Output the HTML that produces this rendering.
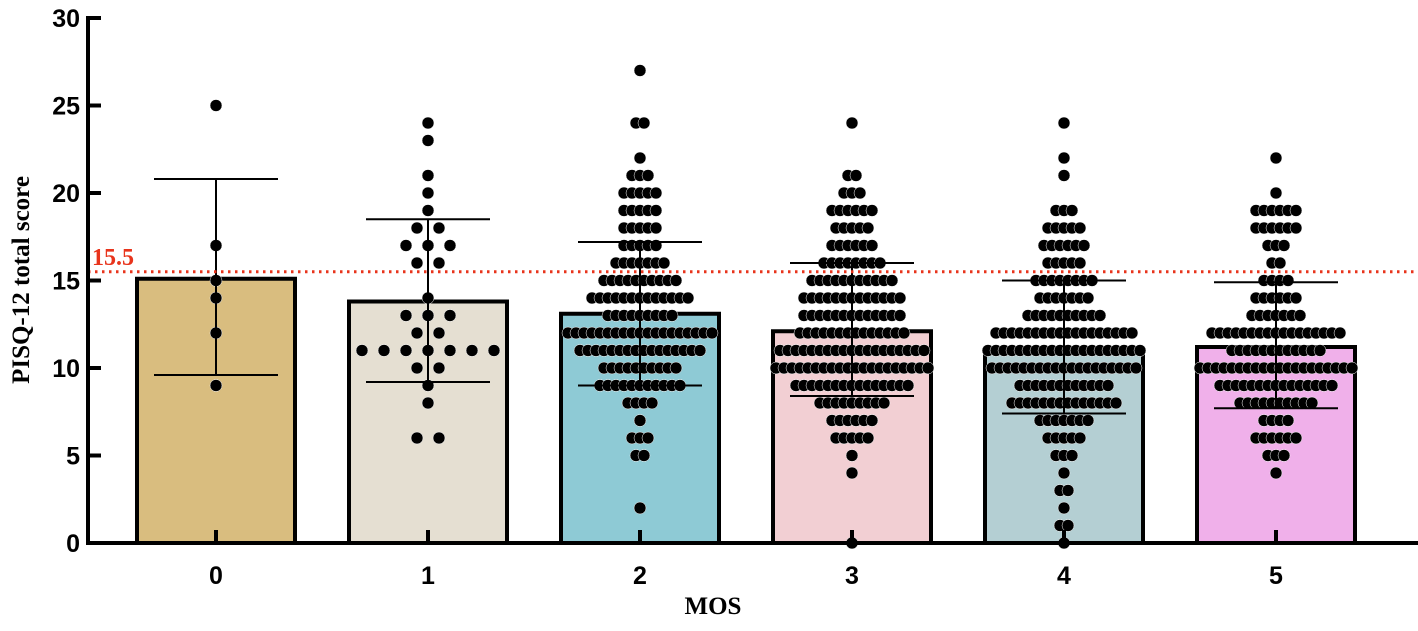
<!DOCTYPE html>
<html><head><meta charset="utf-8"><style>
body{margin:0;background:#fff;}
svg{display:block;}
.tk{font-family:"Liberation Sans",Arial,sans-serif;font-weight:bold;font-size:25px;fill:#000;}
.ttl{font-family:"Liberation Serif",serif;font-weight:bold;font-size:25px;fill:#000;}
</style></head><body>
<svg id="chart" width="1418" height="631"></svg>
<script>
const categories=["0","1","2","3","4","5"];
const means=[15.1,13.8,13.1,12.1,11.1,11.2];
const errLow=[9.6,9.2,9.0,8.4,7.4,7.7];
const errHigh=[20.8,18.5,17.2,16.0,15.0,14.9];
const colors=["#d9bd7f","#e5dfd2","#8ecad5","#f2cfd3","#b4cfd3","#f0b0ea"];
const yTicks=[0,5,10,15,20,25,30];
const cutoff=15.5;
// counts per score value: [value,count]
const counts0=[[25,1],[17,1],[15,1],[14,1],[12,1],[9,1]];
const counts1=[[24,1],[23,1],[21,1],[20,1],[19,1],[18,2],[17,3],[16,2],[14,1],[13,3],[12,2],[11,7],[10,2],[9,1],[8,1],[6,2]];
const counts2=[[27,1],[24,2],[22,1],[21,3],[20,5],[19,5],[18,5],[17,5],[16,7],[15,10],[14,13],[13,9],[12,19],[11,16],[10,10],[9,11],[8,4],[7,1],[6,3],[5,2],[2,1]];
const counts3=[[24,1],[21,2],[20,3],[19,6],[18,5],[17,6],[16,8],[15,11],[14,13],[13,13],[12,14],[11,19],[10,20],[9,15],[8,9],[7,6],[6,5],[5,1],[4,1],[0,1]];
const counts4=[[24,1],[22,1],[21,1],[19,3],[18,5],[17,6],[16,5],[15,8],[14,7],[13,10],[12,18],[11,20],[10,19],[9,12],[8,14],[7,7],[6,5],[5,3],[4,1],[3,2],[2,1],[1,2],[0,1]];
const counts5=[[22,1],[20,1],[19,6],[18,6],[17,3],[16,2],[15,4],[14,6],[13,7],[12,17],[11,12],[10,20],[9,15],[8,10],[7,4],[6,6],[5,3],[4,1]];
const allCounts=[counts0,counts1,counts2,counts3,counts4,counts5];
const spacing=[22,22,8,8,8,8];

const NS="http://www.w3.org/2000/svg";
const svg=document.getElementById('chart');
const X0=88,Y0=543,Y1=18,step=212,first=216,barW=158;
const y=v=>Y0-(v/30)*(Y0-Y1);
const x=i=>first+i*step;
function mk(t,a,p){const e=document.createElementNS(NS,t);for(const k in a)e.setAttribute(k,a[k]);(p||svg).appendChild(e);return e;}

categories.forEach((c,i)=>{
  const b=mk('rect',{x:x(i)-barW/2,y:y(means[i]),width:barW,height:Y0-y(means[i]),fill:colors[i],stroke:'#000','stroke-width':4});
  
  
});
allCounts.forEach((cs,i)=>{
  const g=mk('g',{});
  
  
  cs.forEach(([v,n])=>{
    for(let k=0;k<n;k++){
      const off=(k-(n-1)/2)*spacing[i];
      mk('circle',{cx:x(i)+off,cy:y(v),r:6,fill:'#000',stroke:'#fff','stroke-width':0.5},g);
    }
  });
});
categories.forEach((c,i)=>{
  const g=mk('g',{stroke:'#000','stroke-width':2});
  
  
  mk('line',{x1:x(i),x2:x(i),y1:y(errLow[i]),y2:y(errHigh[i])},g);
  mk('line',{x1:x(i)-62,x2:x(i)+62,y1:y(errLow[i]),y2:y(errLow[i])},g);
  mk('line',{x1:x(i)-62,x2:x(i)+62,y1:y(errHigh[i]),y2:y(errHigh[i])},g);
});
const cl=mk('line',{x1:X0,x2:1418,y1:y(cutoff),y2:y(cutoff),stroke:'#e8341c','stroke-width':3,'stroke-dasharray':'2.5 4.5'});


const ct=mk('text',{x:92,y:y(cutoff)-7,fill:'#e8341c',style:'font-family:"Liberation Serif",serif;font-weight:bold;font-size:24px'});
ct.textContent=String(cutoff);



const ya=mk('g',{});


mk('line',{x1:X0,x2:X0,y1:Y1-2,y2:Y0+2,stroke:'#000','stroke-width':4},ya);
yTicks.forEach(t=>{
  mk('line',{x1:X0,x2:X0+13,y1:y(t),y2:y(t),stroke:'#000','stroke-width':4},ya);
  const tx=mk('text',{x:80,y:y(t)+9,'text-anchor':'end',class:'tk'},ya);
  tx.textContent=t;
});
const xa=mk('g',{});


mk('line',{x1:X0-2,x2:1418,y1:Y0,y2:Y0,stroke:'#000','stroke-width':4},xa);
categories.forEach((c,i)=>{
  mk('line',{x1:x(i),x2:x(i),y1:Y0,y2:Y0-13,stroke:'#000','stroke-width':4},xa);
  const tx=mk('text',{x:x(i),y:584,'text-anchor':'middle',class:'tk'},xa);
  tx.textContent=c;
});
const xt=mk('text',{x:713,y:614,'text-anchor':'middle',class:'ttl'});
xt.textContent='MOS';


const yt=mk('text',{x:0,y:0,'text-anchor':'middle',class:'ttl',transform:'translate(29,280) rotate(-90)'});
yt.textContent='PISQ-12 total score';


</script>
</body></html>
